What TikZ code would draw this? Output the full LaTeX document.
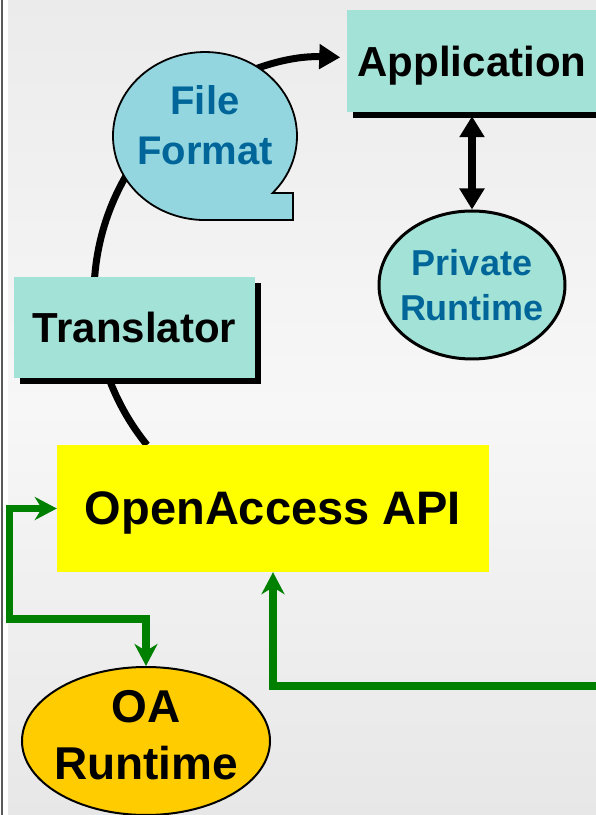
\documentclass[tikz,border=0pt]{standalone}
\usepackage{fontspec}
\setmainfont{Liberation Sans}
\usepackage{xcolor}
\usepackage{tikz}
\usetikzlibrary{shapes,positioning,arrows.meta,shadows}
\definecolor{tealbox}{RGB}{163,226,214}
\definecolor{bubble}{RGB}{148,214,224}
\definecolor{oablue}{RGB}{0,102,153}
\definecolor{oagold}{RGB}{255,204,0}
\definecolor{oagreen}{RGB}{0,128,0}
\definecolor{oayellow}{RGB}{255,255,0}
\definecolor{bgtop}{RGB}{235,235,235}
\definecolor{bgmid}{RGB}{247,247,247}
\definecolor{bgbot}{RGB}{231,231,231}
\tikzset{box/.style={rectangle,fill=tealbox,inner sep=0pt,text depth=0pt,font=\bfseries\fontsize{42}{50}\selectfont,
  drop shadow={shadow xshift=6pt,shadow yshift=-6pt,opacity=1,fill=black}}}
\tikzset{apibox/.style={rectangle,fill=oayellow,inner sep=0pt,text depth=0pt,font=\bfseries\fontsize{47}{56}\selectfont}}
\tikzset{oval/.style={ellipse,draw,inner sep=0pt}}
\tikzset{blk/.style={line width=7pt,-{Triangle[length=21pt,width=24pt]}}}
\tikzset{grn/.style={draw=oagreen,line width=7.5pt,-{Stealth[length=22pt,width=23pt,inset=7pt]}}}

\begin{document}
\begin{tikzpicture}[x=1pt,y=1pt]
    \useasboundingbox (0,0) rectangle (596,815);
    \clip (0,0) rectangle (596,815);
    \fill[white] (0,0) rectangle (8,815);
    \shade[top color=bgtop,bottom color=bgbot,middle color=bgmid] (8,0) rectangle (596,815);
    \draw[line width=1.8pt,black!65] (1.8,0) -- (1.8,815);

    \coordinate (arcA) at (147,370);
    \draw[blk] (arcA) arc[start angle=219,end angle=88,radius=238];

    \node[box,minimum width=241pt,minimum height=101pt] (trans) at (134.5,487.5) {Translator};
    \node[box,minimum width=250pt,minimum height=102pt] (app) at (472,754) {Application};

    \coordinate (ffc) at (205,679);
    \draw[fill=bubble,line width=1.8pt] ([yshift=-84pt]ffc) -- ++(88,0) -- ++(0,27) -- ++(-20.4,0)
        arc[start angle=-42.7,end angle=270,x radius=92,y radius=84] -- cycle;
    \node[font=\bfseries\fontsize{40}{50}\selectfont,text=oablue,align=center] (ffmt) at (205,689.5) {File\\Format};

    \node[apibox,minimum width=432pt,minimum height=127pt] (api) at (273,306.5) {OpenAccess API};

    \node[oval,fill=tealbox,line width=3pt,minimum width=186pt,minimum height=148pt] (priv) at (472,530) {};
    \node[font=\bfseries\fontsize{36}{45}\selectfont,text=oablue,align=center] (privtxt) at (priv) {Private\\Runtime};

    \node[oval,fill=oagold,line width=2pt,minimum width=248pt,minimum height=148pt] (oart) at (146,74) {};
    \node[font=\bfseries\fontsize{46}{57}\selectfont,align=center] (oatxt) at (146,79.5) {OA\\Runtime};

    \draw[line width=8pt,{Triangle[length=21pt,width=24pt]}-{Triangle[length=21pt,width=24pt]}]
        ([yshift=-4pt]app.south) -- (priv.north);

    \coordinate (lp) at (9.5,196);
    \coordinate (rp) at (610,129);
    \draw[grn,{Stealth[length=22pt,width=23pt,inset=7pt]}-{Stealth[length=22pt,width=23pt,inset=7pt]}]
        (oart.north) |- (lp) |- (api.west);
    \draw[grn] (rp) -| (api.south);
\end{tikzpicture}
\end{document}
